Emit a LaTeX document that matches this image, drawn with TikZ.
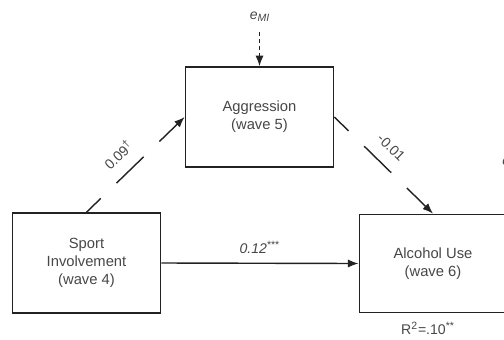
\documentclass[tikz,border=0pt]{standalone}
\usepackage{fontspec}
\setmainfont{Liberation Sans}
\usetikzlibrary{arrows.meta}
\definecolor{ink}{HTML}{222222}
\definecolor{txt}{HTML}{474747}
\begin{document}
\begin{tikzpicture}[x=0.02cm,y=-0.02cm,
  varbox/.style={draw=ink, line width=0.8pt, text=txt, align=center,
    inner sep=0pt, minimum width=84.4pt, minimum height=57pt,
    font=\fontsize{8.4}{10.2}\selectfont},
  path/.style={draw=ink, line width=0.8pt, -{Latex[length=6pt,width=4.6pt]}},
  gappath/.style={path, dash pattern=on 21.5pt off 12.5pt, dash phase=10.2pt},
  errpath/.style={draw=ink, line width=0.8pt, dash pattern=on 2pt off 2pt,
    -{Latex[length=6pt,width=4.6pt]}},
  coef/.style={text=txt, inner sep=0pt, font=\fontsize{8}{9}\selectfont},
  errlabel/.style={text=txt, inner sep=0pt, font=\fontsize{8}{9}\selectfont\itshape}]
  \useasboundingbox (0,0) rectangle (504,339);
  \fill[white] (0,0) rectangle (504,339);

  % variables
  \node[varbox] (agg) at (259.5,117) {Aggression\\(wave 5)};
  \node[varbox] (sport) at (86.5,263) {Sport\\Involvement\\(wave 4)};
  \node[varbox, minimum width=84pt, minimum height=56pt] (alc) at (433,263.5) {Alcohol Use\\(wave 6)};

  % residual terms
  \node[errlabel] (eMI) at (260,17) {e\textsubscript{MI}};
  \coordinate (eMIend) at (259.5,32);
  \draw[errpath] (eMIend) -- (agg.north);

  \node[errlabel, anchor=west] (eY) at (502,163) {e\textsubscript{Y}};
  \coordinate (eYstart) at (508.5,178);
  \coordinate (eYend) at (508.5,214);
  \draw[errpath] (eYstart) -- (eYend);

  % structural paths
  \draw[gappath] (sport.north) -- node[coef, pos=0.46, sloped, above=7pt] {0.09\textsuperscript{†}} (agg.west);
  \draw[gappath] (agg.east) -- node[coef, pos=0.45, sloped, above=7pt] {-0.01} (alc.north);
  \draw[path] (sport.east) -- node[coef, above=5pt] {\textit{0.12}\textsuperscript{***}} (alc.west);

  % explained variance
  \node[coef] (r2) at (428,328) {R\textsuperscript{2}=.10\textsuperscript{**}};
\end{tikzpicture}
\end{document}
